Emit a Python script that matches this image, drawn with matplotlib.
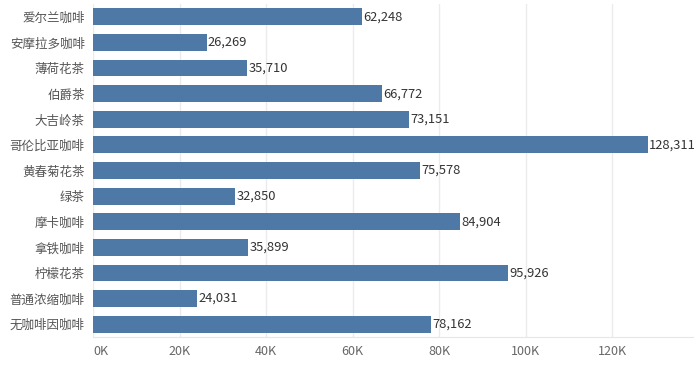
import matplotlib.pyplot as plt
from matplotlib.ticker import FuncFormatter

plt.rcParams['font.family'] = ['Noto Sans CJK SC', 'DejaVu Sans']

products = ['爱尔兰咖啡', '安摩拉多咖啡', '薄荷花茶', '伯爵茶', '大吉岭茶', '哥伦比亚咖啡', '黄春菊花茶',
            '绿茶', '摩卡咖啡', '拿铁咖啡', '柠檬花茶', '普通浓缩咖啡', '无咖啡因咖啡']
sales = [62248, 26269, 35710, 66772, 73151, 128311, 75578, 32850, 84904, 35899, 95926, 24031, 78162]

fig = plt.figure(figsize=(7, 3.65), dpi=100)
ax = fig.add_axes([93 / 700, 28 / 365, 600 / 700, 333 / 365])

ypos = list(range(len(products)))
ax.barh(ypos, sales, height=0.66, color='#4e79a7', zorder=2)
for y, v in zip(ypos, sales):
    ax.text(v + 300, y, f'{v:,}', va='center', ha='left', fontsize=9.3, color='#333333')

ax.set_yticks(ypos)
ax.set_yticklabels(products)
ax.set_ylim(len(products) - 0.5, -0.5)
ax.set_xlim(0, 138700)
ax.set_xticks(range(0, 120001, 20000))
ax.xaxis.set_major_formatter(FuncFormatter(lambda x, p: f'{int(x / 1000)}K'))
ax.grid(axis='x', color='#ebebeb', linewidth=1, zorder=0)
for s in ['top', 'right', 'left']:
    ax.spines[s].set_visible(False)
ax.spines['bottom'].set_color('#e6e6e6')
ax.tick_params(axis='both', length=0, labelsize=9, colors='#666666')
ax.tick_params(axis='y', pad=6, colors='#555555')
ax.tick_params(axis='x', pad=6)
ax.get_xticklabels()[0].set_ha('left')

fig.savefig('out.png')
